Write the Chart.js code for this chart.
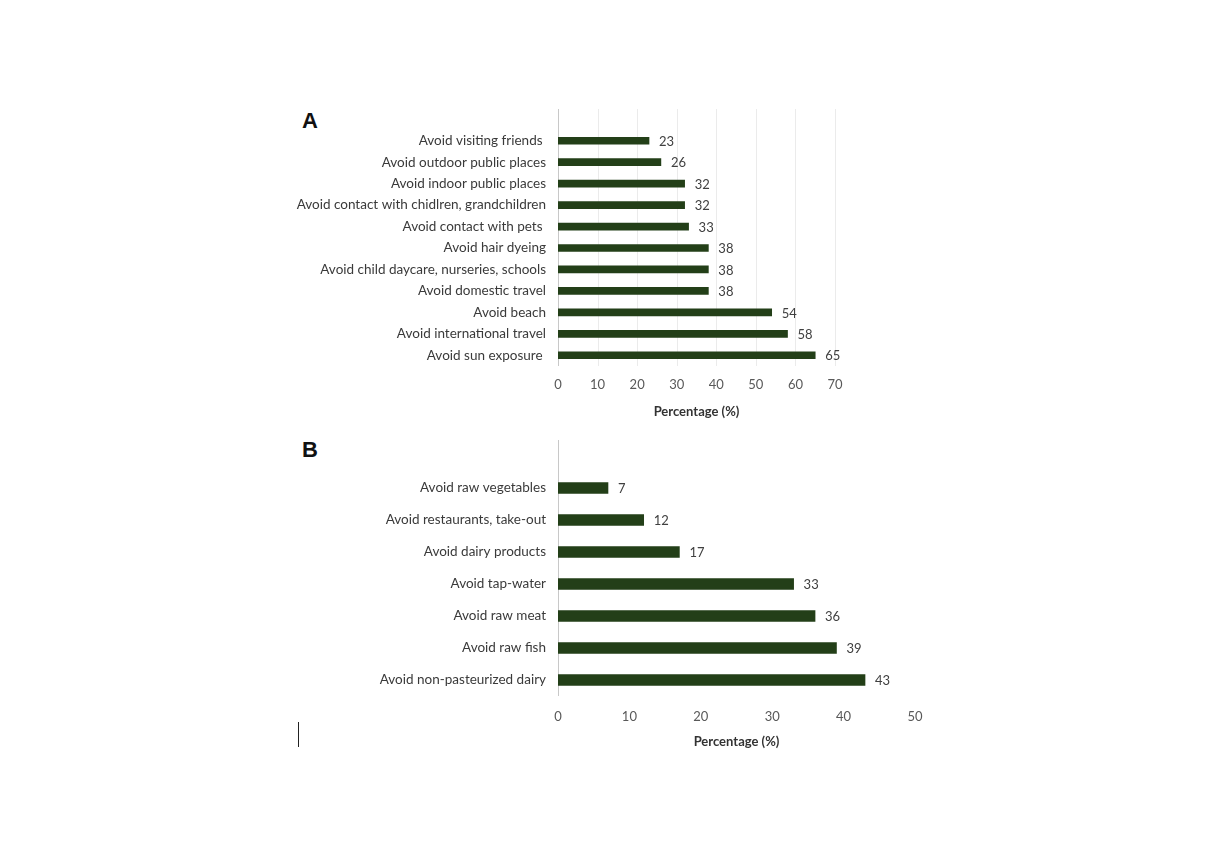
<!DOCTYPE html>
<html><head><meta charset="utf-8">
<script src="https://cdn.jsdelivr.net/npm/chart.js@4.4.1/dist/chart.umd.min.js"></script>
<style>
html,body{margin:0;padding:0;background:#fff;width:1220px;height:853px;overflow:hidden;position:relative;}
.wrap{position:absolute;left:0;width:1220px;}
.letter{position:absolute;font-family:"Liberation Sans",Arial,sans-serif;font-weight:bold;font-size:22px;color:#111;}
#cursor{position:absolute;left:298px;top:722px;width:1px;height:25px;background:#222;}
</style></head><body>
<div class="letter" style="left:302px;top:108px;">A</div>
<div class="letter" style="left:302px;top:437px;">B</div>
<div class="wrap" style="top:0;height:420px;"><canvas id="cA"></canvas></div>
<div class="wrap" style="top:420px;height:330px;"><canvas id="cB"></canvas></div>
<div id="cursor"></div>
<script>
const labelsA = ["Avoid visiting friends ","Avoid outdoor public places","Avoid indoor public places","Avoid contact with chidlren, grandchildren","Avoid contact with pets ","Avoid hair dyeing","Avoid child daycare, nurseries, schools","Avoid domestic travel","Avoid beach","Avoid international travel","Avoid sun exposure "];
const valuesA = [23,26,32,32,33,38,38,38,54,58,65];
const labelsB = ["Avoid raw vegetables","Avoid restaurants, take-out","Avoid dairy products","Avoid tap-water","Avoid raw meat","Avoid raw fish","Avoid non-pasteurized dairy"];
const valuesB = [7,12,17,33,36,39,43];
const axisTitle = "Percentage (%)";

const BAR = "#233f18";
const FONT = "Lato, 'Liberation Sans', sans-serif";

function makePlugins(ext, showGrid){
  return [{
    id:'extras',
    beforeDatasetsDraw(chart){
      const ctx = chart.ctx, a = chart.chartArea, xs = chart.scales.x;
      ctx.save();
      ctx.lineWidth = 1;
      xs.ticks.forEach(t=>{
        const px = Math.round(xs.getPixelForValue(t.value))+0.5;
        if (t.value === 0){ ctx.strokeStyle = '#c8c8c8'; }
        else if (showGrid){ ctx.strokeStyle = '#ebebeb'; }
        else return;
        ctx.beginPath(); ctx.moveTo(px, a.top-ext); ctx.lineTo(px, a.bottom); ctx.stroke();
      });
      ctx.restore();
    },
    afterDatasetsDraw(chart){
      const ctx = chart.ctx;
      const meta = chart.getDatasetMeta(0);
      const data = chart.data.datasets[0].data;
      ctx.save();
      ctx.font = "13px " + FONT;
      ctx.fillStyle = '#404040';
      ctx.textAlign = 'left';
      ctx.textBaseline = 'middle';
      meta.data.forEach((el,i)=>{ ctx.fillText(String(data[i]), el.x + 10, el.y + 1); });
      ctx.restore();
    }
  }];
}

function build(id, labels, values, max, padTop, padRight, ext, showGrid, thick, tickPad){
  return new Chart(document.getElementById(id), {
    type:'bar',
    data:{labels:labels, datasets:[{data:values, backgroundColor:BAR, borderWidth:0, barThickness:thick}]},
    options:{
      indexAxis:'y', responsive:true, maintainAspectRatio:false, animation:false,
      layout:{padding:{left:0, top:padTop, right:padRight, bottom:0}},
      plugins:{legend:{display:false}, tooltip:{enabled:false}},
      scales:{
        x:{min:0, max:max, ticks:{stepSize:10, color:'#595959', font:{family:FONT, size:13}, padding:tickPad},
           grid:{display:false, drawTicks:false},
           border:{display:false},
           title:{display:true, text:axisTitle, color:'#333', font:{family:FONT, size:13, weight:'bold'}, padding:{top:2,bottom:0}},
           afterFit(s){ s.height = 54; }},
        y:{ticks:{color:'#3a3a3a', font:{family:FONT, size:13.5}, padding:12, autoSkip:false},
           grid:{display:false, drawTicks:false},
           border:{display:false},
           afterFit(s){ s.width = 558; }}
      }
    },
    plugins: makePlugins(ext, showGrid)
  });
}
build('cA', labelsA, valuesA, 70, 130, 385, 21, true, 7, 11);
build('cB', labelsB, valuesB, 50, 52, 305, 32, false, 11, 13);
</script>
</body></html>
